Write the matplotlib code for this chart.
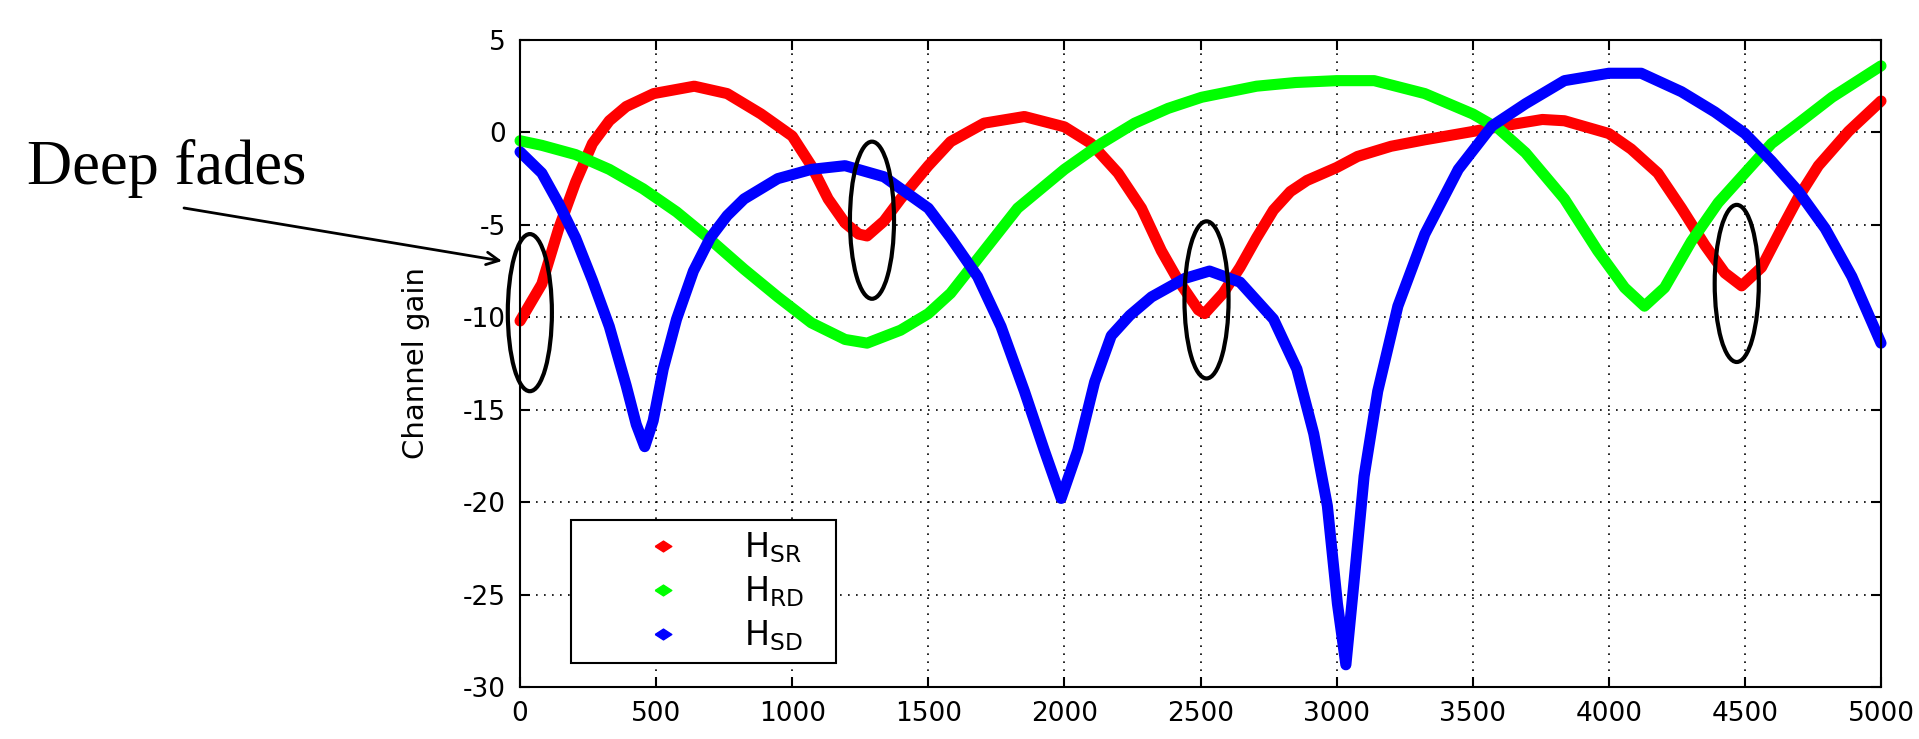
import matplotlib
matplotlib.use('Agg')
import matplotlib.pyplot as plt
from matplotlib.patches import Ellipse
from matplotlib.lines import Line2D

# Channel gains
x_sr = [0, 80, 142, 204, 266, 328, 390, 491, 640, 761, 885, 1000, 1070, 1132, 1194, 1244, 1275,
        1337, 1398, 1500, 1582, 1705, 1853, 2000, 2098, 2197, 2283, 2356, 2418, 2492, 2515, 2583,
        2645, 2706, 2768, 2830, 2891, 3000, 3077, 3200, 3324, 3500, 3632, 3756, 3837, 4000, 4082,
        4180, 4267, 4353, 4426, 4488, 4561, 4635, 4697, 4770, 4881, 5000]
h_sr = [-10.2, -8.2, -5.2, -2.7, -0.6, 0.63, 1.4, 2.1, 2.5, 2.1, 1.0, -0.2, -1.8, -3.6, -4.9, -5.5, -5.6,
        -4.8, -3.6, -1.8, -0.5, 0.5, 0.86, 0.3, -0.6, -2.2, -4.1, -6.4, -8.0, -9.6, -9.8, -8.7,
        -7.3, -5.7, -4.2, -3.2, -2.6, -1.9, -1.3, -0.75, -0.4, 0.05, 0.4, 0.7, 0.63, -0.06, -0.9,
        -2.2, -4.1, -6.1, -7.6, -8.3, -7.3, -5.2, -3.5, -1.8, 0.06, 1.7]

x_rd = [0, 80, 204, 328, 452, 575, 699, 823, 947, 1070, 1194, 1275, 1398, 1500, 1582, 1705, 1828,
        2000, 2135, 2258, 2381, 2504, 2706, 2850, 3000, 3138, 3324, 3500, 3595, 3694, 3837, 3959,
        4058, 4131, 4205, 4303, 4402, 4500, 4598, 4697, 4820, 5000]
h_rd = [-0.45, -0.7, -1.2, -2.0, -3.05, -4.3, -5.8, -7.4, -8.9, -10.3, -11.2, -11.4, -10.7, -9.8, -8.7, -6.4, -4.1,
        -2.0, -0.6, 0.5, 1.3, 1.9, 2.5, 2.7, 2.8, 2.8, 2.1, 1.0, 0.2, -1.1, -3.6, -6.4,
        -8.4, -9.4, -8.4, -5.9, -3.8, -2.2, -0.6, 0.5, 1.9, 3.6]

x_sd = [0, 80, 142, 204, 266, 328, 390, 427, 458, 489, 526, 575, 637, 699, 761, 823, 947, 1070, 1194,
        1337, 1500, 1582, 1681, 1767, 1853, 1926, 1988, 2049, 2111, 2172, 2240, 2320, 2442, 2533, 2645,
        2768, 2854, 2916, 2966, 3003, 3034, 3064, 3101, 3151, 3225, 3324, 3447, 3571, 3694, 3837,
        4000, 4119, 4267, 4390, 4500, 4598, 4697, 4795, 4893, 5000]
h_sd = [-1.05, -2.2, -3.85, -5.7, -8.0, -10.5, -13.7, -15.8, -17.0, -15.6, -12.8, -10.1, -7.5, -5.7, -4.5, -3.6, -2.5, -2.0, -1.8,
        -2.4, -4.1, -5.7, -7.8, -10.5, -14.0, -17.2, -19.8, -17.2, -13.5, -11.0, -9.9, -8.9, -7.9, -7.5, -8.1,
        -10.1, -12.8, -16.3, -20.2, -25.5, -28.8, -24.3, -18.6, -14.0, -9.4, -5.5, -2.0, 0.35, 1.55, 2.8,
        3.2, 3.2, 2.2, 1.1, -0.06, -1.55, -3.2, -5.2, -7.8, -11.4]

labels = ['$H_{SR}$', '$H_{RD}$', '$H_{SD}$']
colors = ['#ff0000', '#00ff00', '#0000ff']

xticks = list(range(0, 5001, 500))
yticks = list(range(-30, 6, 5))

# deep fades circled on the plot
fade_x = [36, 1293, 2522, 4470]
fade_y = [-9.75, -4.75, -9.06, -8.17]

plt.rcParams['mathtext.default'] = 'regular'
plt.rcParams['axes.unicode_minus'] = False
fig = plt.figure(figsize=(19.19, 7.39), dpi=100)
ax = fig.add_axes([0.271, 0.0704, 0.7092, 0.8755])

for xs, ys, c in zip([x_sr, x_rd, x_sd], [h_sr, h_rd, h_sd], colors):
    ax.plot(xs, ys, color=c, lw=8, solid_capstyle='round', solid_joinstyle='round', clip_on=False)

ax.set_xlim(0, 5000)
ax.set_ylim(-30, 5)
ax.set_xticks(xticks)
ax.set_yticks(yticks)
ax.grid(True, color='k', linestyle=(0, (1, 3.8)), linewidth=1.2)
ax.tick_params(direction='in', length=7, width=1.5, top=True, right=True, labelsize=19)
ax.tick_params(axis='x', pad=10)
ax.tick_params(axis='y', pad=10)
for s in ax.spines.values():
    s.set_linewidth(1.5)
ax.set_ylabel('Channel gain', fontsize=21)
ax.yaxis.set_label_coords(-0.066, 0.5)

# ellipses around the fades
for cx, cy in zip(fade_x, fade_y):
    ax.add_patch(Ellipse((cx, cy), 162, 8.5, fill=False, edgecolor='k', lw=3, clip_on=False, zorder=5))

# legend with diamond markers
diamond = [(-1, 0), (0, 0.65), (1, 0), (0, -0.65), (-1, 0)]
handles = [Line2D([], [], color=c, marker=diamond, linestyle='none', markersize=12) for c in colors]
leg = ax.legend(handles, labels, loc='lower left', bbox_to_anchor=(0.0375, 0.037, 0.1947, 0.2),
                mode='expand', borderaxespad=0, fontsize=24, handlelength=4.9, handletextpad=0,
                labelspacing=0.28, borderpad=0.3, fancybox=False, edgecolor='k', framealpha=1)
leg.get_frame().set_linewidth(1.5)

# annotation
fig.text(27 / 1919, 1 - 184 / 739, 'Deep fades', fontsize=45, family='Liberation Serif',
         va='baseline', ha='left')
ax.annotate('', xy=(502 / 1919, 1 - 261 / 739), xycoords='figure fraction',
            xytext=(184 / 1919, 1 - 208 / 739), textcoords='figure fraction',
            arrowprops=dict(arrowstyle='->,head_length=0.9,head_width=0.45', lw=2, color='k',
                            shrinkA=0, shrinkB=0), annotation_clip=False)

fig.savefig('out.png', dpi=100)
